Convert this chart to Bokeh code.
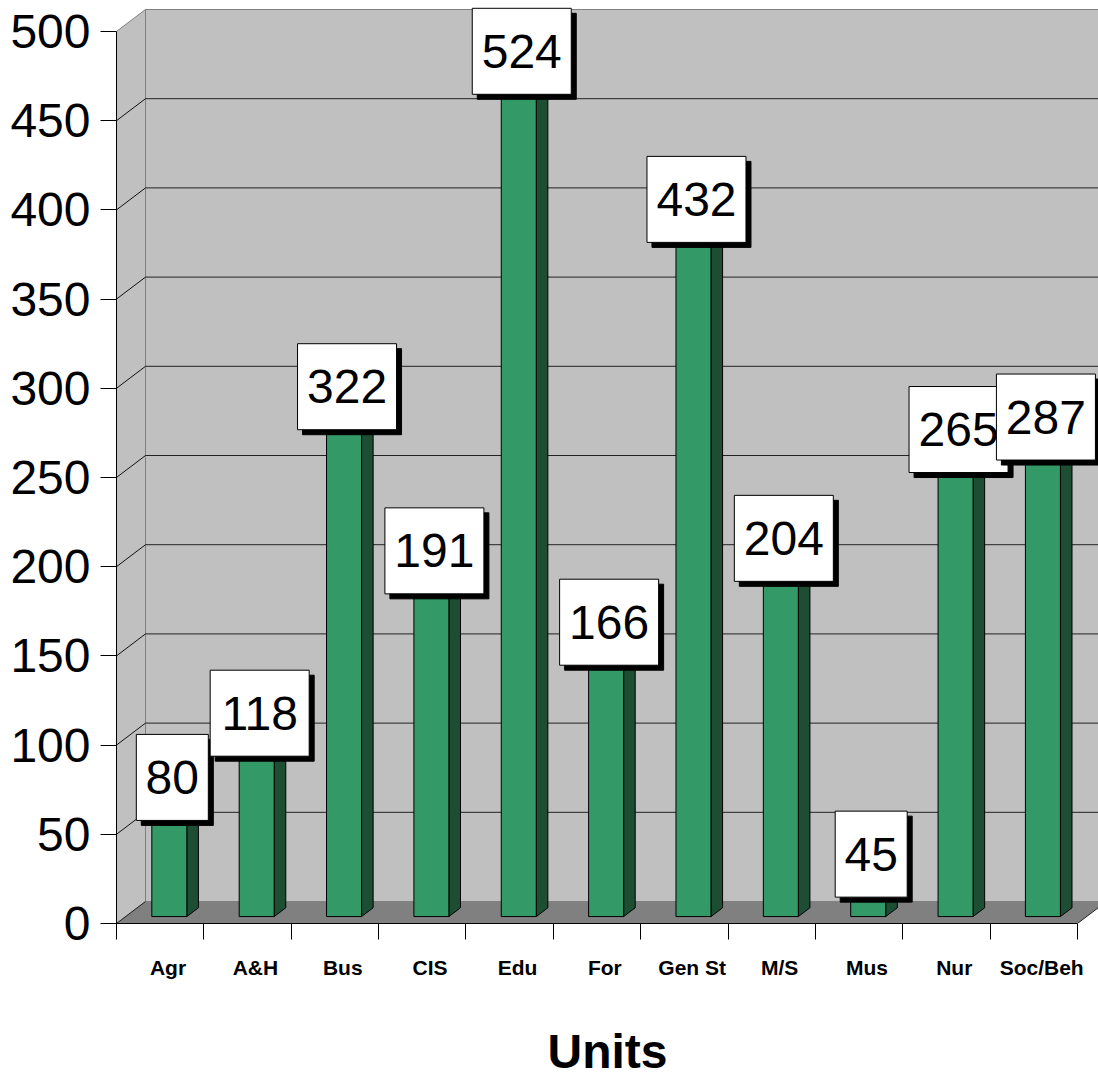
from bokeh.plotting import figure
from bokeh.models import Range1d, FixedTicker, LinearAxis
from bokeh.core.properties import value
from bokeh.embed import file_html
from bokeh.resources import INLINE

# ---- data -------------------------------------------------------------
categories = ["Agr", "A&H", "Bus", "CIS", "Edu", "For", "Gen St", "M/S", "Mus", "Nur", "Soc/Beh"]
bar_heights = [78, 114, 297, 205, 485, 165, 402, 212, 35, 273, 280]
data_labels = ["80", "118", "322", "191", "524", "166", "432", "204", "45", "265", "287"]
y_ticks = [0, 50, 100, 150, 200, 250, 300, 350, 400, 450, 500]
axis_title = "Units"

# ---- geometry / style constants --------------------------------------
PX_X = 87.36          # pixels per category
PX_Y = 1.786          # pixels per value unit
FIG_W, FIG_H = 1098, 1080
BORDER_L = 116
BORDER_B = 156
FRAME_W = FIG_W - BORDER_L
FRAME_H = FIG_H - BORDER_B
X_END = FRAME_W / PX_X
Y_END = FRAME_H / PX_Y
DX = 29 / PX_X        # 3-D depth offset (x)
DY = 22 / PX_Y        # 3-D depth offset (y)
D0, D1 = 0.315, 0.715 # bar depth fractions
BAR_W = 35 / PX_X
N = len(categories)
YMAX = y_ticks[-1]

WALL = "#C0C0C0"
FLOOR = "#808080"
GREEN = "#339966"
GREEN_DARK = "#1D4D33"
FONT = "Liberation Sans"

p = figure(width=FIG_W, height=FIG_H,
           x_range=Range1d(0, X_END), y_range=Range1d(0, Y_END),
           output_backend="svg", toolbar_location=None,
           x_axis_type=None, y_axis_type=None,
           min_border_left=BORDER_L, min_border_right=0,
           min_border_top=0, min_border_bottom=BORDER_B)
p.xgrid.visible = False
p.ygrid.visible = False
p.outline_line_color = None
p.background_fill_color = "white"
p.border_fill_color = "white"

# back wall
p.quad(left=[DX], right=[X_END + 1], bottom=[DY], top=[YMAX + DY],
       fill_color=WALL, line_color=FLOOR, line_width=1)
# left side wall
p.patch([0, DX, DX, 0], [0, DY, YMAX + DY, YMAX],
        fill_color=WALL, line_color=FLOOR, line_width=1)

# gridlines on back wall and side wall
gv = [v for v in y_ticks if 0 < v < YMAX]
p.segment(x0=[DX] * len(gv), y0=[v + DY for v in gv],
          x1=[X_END + 1] * len(gv), y1=[v + DY for v in gv],
          line_color="#222222", line_width=1)
p.segment(x0=[0] * len(gv), y0=gv, x1=[DX] * len(gv), y1=[v + DY for v in gv],
          line_color="#111111", line_width=1)

# floor
p.patch([0, N, N + DX, DX], [0, 0, DY, DY], fill_color=FLOOR, line_color=None)
p.segment(x0=[0, N], y0=[0, 0], x1=[DX, N + DX], y1=[DY, DY],
          line_color="#222222", line_width=1)

# bars
centers = [i + 0.5 for i in range(N)]
xl = [c - BAR_W / 2 + D0 * DX for c in centers]
xr = [c + BAR_W / 2 + D0 * DX for c in centers]
yb = [D0 * DY] * N
yt = [h + D0 * DY for h in bar_heights]
ddx = (D1 - D0) * DX
ddy = (D1 - D0) * DY

p.patches([[r, r + ddx, r + ddx, r] for r in xr],
          [[b, b + ddy, t + ddy, t] for b, t in zip(yb, yt)],
          fill_color=GREEN_DARK, line_color="black", line_width=1)
p.patches([[l, r, r + ddx, l + ddx] for l, r in zip(xl, xr)],
          [[t, t, t + ddy, t + ddy] for t in yt],
          fill_color=GREEN, line_color="black", line_width=1)
p.quad(left=xl, right=xr, bottom=yb, top=yt,
       fill_color=GREEN, line_color="black", line_width=1)

# data labels (boxes with shadow)
for i in range(N):
    lx = centers[i] + D0 * DX + 3 / PX_X
    ly = yt[i]
    w = 18 + 27 * len(data_labels[i])
    p.rect(x=[lx + 5 / PX_X], y=[ly - 5 / PX_Y], width=w, height=86,
           width_units="screen", height_units="screen",
           fill_color="black", line_color="black")
    p.rect(x=[lx], y=[ly], width=w, height=86,
           width_units="screen", height_units="screen",
           fill_color="white", line_color="black", line_width=1)
    p.text(x=[lx], y=[ly], text=[data_labels[i]],
           text_font=value(FONT), text_font_size=value("48px"),
           text_align="center", text_baseline="middle", text_color="black")

# y axis
yaxis = LinearAxis(ticker=FixedTicker(ticks=y_ticks), bounds=(0, YMAX))
yaxis.axis_line_color = "black"
yaxis.axis_line_width = 1
yaxis.major_tick_out = 16
yaxis.major_tick_in = 0
yaxis.minor_tick_out = 0
yaxis.minor_tick_in = 0
yaxis.major_tick_line_color = "black"
yaxis.major_label_standoff = 10
yaxis.major_label_text_font = FONT
yaxis.major_label_text_font_size = "48px"
yaxis.major_label_text_color = "black"
p.add_layout(yaxis, "left")

# x axis (category labels at major ticks, separators at minor ticks)
label_pos = [round(i + 0.59, 2) for i in range(N)]
xaxis = LinearAxis(ticker=FixedTicker(ticks=label_pos, minor_ticks=list(range(N + 1))),
                   bounds=(0, N))
xaxis.major_label_overrides = {pos: cat for pos, cat in zip(label_pos, categories)}
xaxis.axis_line_color = "black"
xaxis.axis_line_width = 1
xaxis.major_tick_out = 0
xaxis.major_tick_in = 0
xaxis.minor_tick_out = 16
xaxis.minor_tick_in = 0
xaxis.minor_tick_line_color = "black"
xaxis.major_label_standoff = 16
xaxis.major_label_text_font = FONT
xaxis.major_label_text_font_size = "21px"
xaxis.major_label_text_font_style = "bold"
xaxis.major_label_text_color = "black"
xaxis.axis_label = axis_title
xaxis.axis_label_text_font = FONT
xaxis.axis_label_text_font_size = "48px"
xaxis.axis_label_text_font_style = "bold"
xaxis.axis_label_text_color = "black"
xaxis.axis_label_standoff = 43
p.add_layout(xaxis, "below")

open("out.html", "w").write(file_html(p, INLINE))
